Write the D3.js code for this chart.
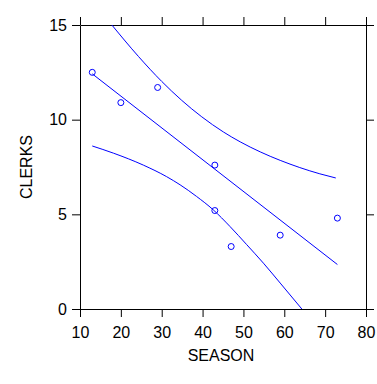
<!DOCTYPE html>
<html>
<head>
<meta charset="utf-8">
<script src="https://cdn.jsdelivr.net/npm/d3@7"></script>
<style>
  body { margin: 0; background: #fff; }
  svg { display: block; }
</style>
</head>
<body>
<main></main>
<script>
// observed points
const season = [13, 20, 29, 43, 43, 47, 59, 73];
const clerks = [12.5, 10.9, 11.7, 7.6, 5.2, 3.3, 3.9, 4.8];

// fitted line
const fitX = [13, 73];
const fitY = [12.42, 2.35];

// confidence bands
const upperX = [17.8, 24.3, 30.0, 34.9, 39.8, 45.1, 49.2, 54.1, 59.0, 63.8, 68.7, 72.6];
const upperY = [15, 13.34, 12.02, 11.02, 10.15, 9.35, 8.83, 8.3, 7.85, 7.47, 7.14, 6.92];
const lowerX = [13, 18.2, 25.5, 31.2, 34.5, 38.5, 42.6, 46.7, 50.8, 54.9, 59.0, 64.3];
const lowerY = [8.61, 8.23, 7.6, 6.99, 6.56, 5.95, 5.24, 4.36, 3.4, 2.42, 1.37, 0];

const xTicks = [10, 20, 30, 40, 50, 60, 70, 80];
const yTicks = [0, 5, 10, 15];

const dimensions = {
  width: 377,
  height: 384,
  margin: { top: 25, right: 11, bottom: 75, left: 80 },
};
dimensions.boundedWidth =
  dimensions.width - (dimensions.margin.left + dimensions.margin.right);
dimensions.boundedHeight =
  dimensions.height - (dimensions.margin.top + dimensions.margin.bottom);

const blue = '#0000ff';
const font = '"Liberation Sans", Arial, sans-serif';

const svg = d3
  .select('main')
  .append('svg')
  .attr('width', dimensions.width)
  .attr('height', dimensions.height);

const xScale = d3
  .scaleLinear()
  .domain([10, 80])
  .range([dimensions.margin.left, dimensions.margin.left + dimensions.boundedWidth]);

const yScale = d3
  .scaleLinear()
  .domain([0, 15])
  .range([dimensions.margin.top + dimensions.boundedHeight, dimensions.margin.top]);

const [x0, x1] = xScale.range();
const [y0, y1] = yScale.range();

// axes
const bottomAxis = svg
  .append('g')
  .attr('transform', `translate(0 ${y0})`)
  .call(d3.axisBottom(xScale).tickValues(xTicks).tickSize(8).tickSizeOuter(0).tickPadding(10));
const topAxis = svg
  .append('g')
  .attr('transform', `translate(0 ${y1})`)
  .call(d3.axisTop(xScale).tickValues(xTicks).tickSize(8).tickSizeOuter(0).tickFormat(''));
const leftAxis = svg
  .append('g')
  .attr('transform', `translate(${x0} 0)`)
  .call(d3.axisLeft(yScale).tickValues(yTicks).tickSize(8).tickSizeOuter(0).tickPadding(5));
const rightAxis = svg
  .append('g')
  .attr('transform', `translate(${x1} 0)`)
  .call(d3.axisRight(yScale).tickValues(yTicks).tickSize(8).tickSizeOuter(0).tickFormat(''));

[bottomAxis, topAxis, leftAxis, rightAxis].forEach(g => {
  g.attr('font-size', 16).attr('font-family', font);
  g.selectAll('text').attr('fill', '#000');
  g.selectAll('line').attr('stroke', '#000');
  g.select('path.domain').attr('stroke', '#000');
});

// clip to plot area
svg
  .append('clipPath')
  .attr('id', 'plot')
  .append('rect')
  .attr('x', x0)
  .attr('y', y1)
  .attr('width', x1 - x0)
  .attr('height', y0 - y1);

const dataGroup = svg.append('g').attr('clip-path', 'url(#plot)');

const line = d3
  .line()
  .x(d => xScale(d[0]))
  .y(d => yScale(d[1]))
  .curve(d3.curveMonotoneX);

[d3.zip(fitX, fitY), d3.zip(upperX, upperY), d3.zip(lowerX, lowerY)].forEach(series => {
  dataGroup
    .append('path')
    .attr('d', line(series))
    .attr('fill', 'none')
    .attr('stroke', blue)
    .attr('stroke-width', 1);
});

dataGroup
  .selectAll('circle')
  .data(d3.zip(season, clerks))
  .join('circle')
  .attr('cx', d => xScale(d[0]))
  .attr('cy', d => yScale(d[1]))
  .attr('r', 3)
  .attr('fill', 'none')
  .attr('stroke', blue)
  .attr('stroke-width', 1);

// axis titles
svg
  .append('text')
  .attr('x', 221)
  .attr('y', 361)
  .attr('text-anchor', 'middle')
  .attr('font-family', font)
  .attr('font-size', 16)
  .text('SEASON');

svg
  .append('text')
  .attr('transform', `translate(32 ${(y0 + y1) / 2}) rotate(-90)`)
  .attr('text-anchor', 'middle')
  .attr('font-family', font)
  .attr('font-size', 16)
  .text('CLERKS');
</script>
</body>
</html>
